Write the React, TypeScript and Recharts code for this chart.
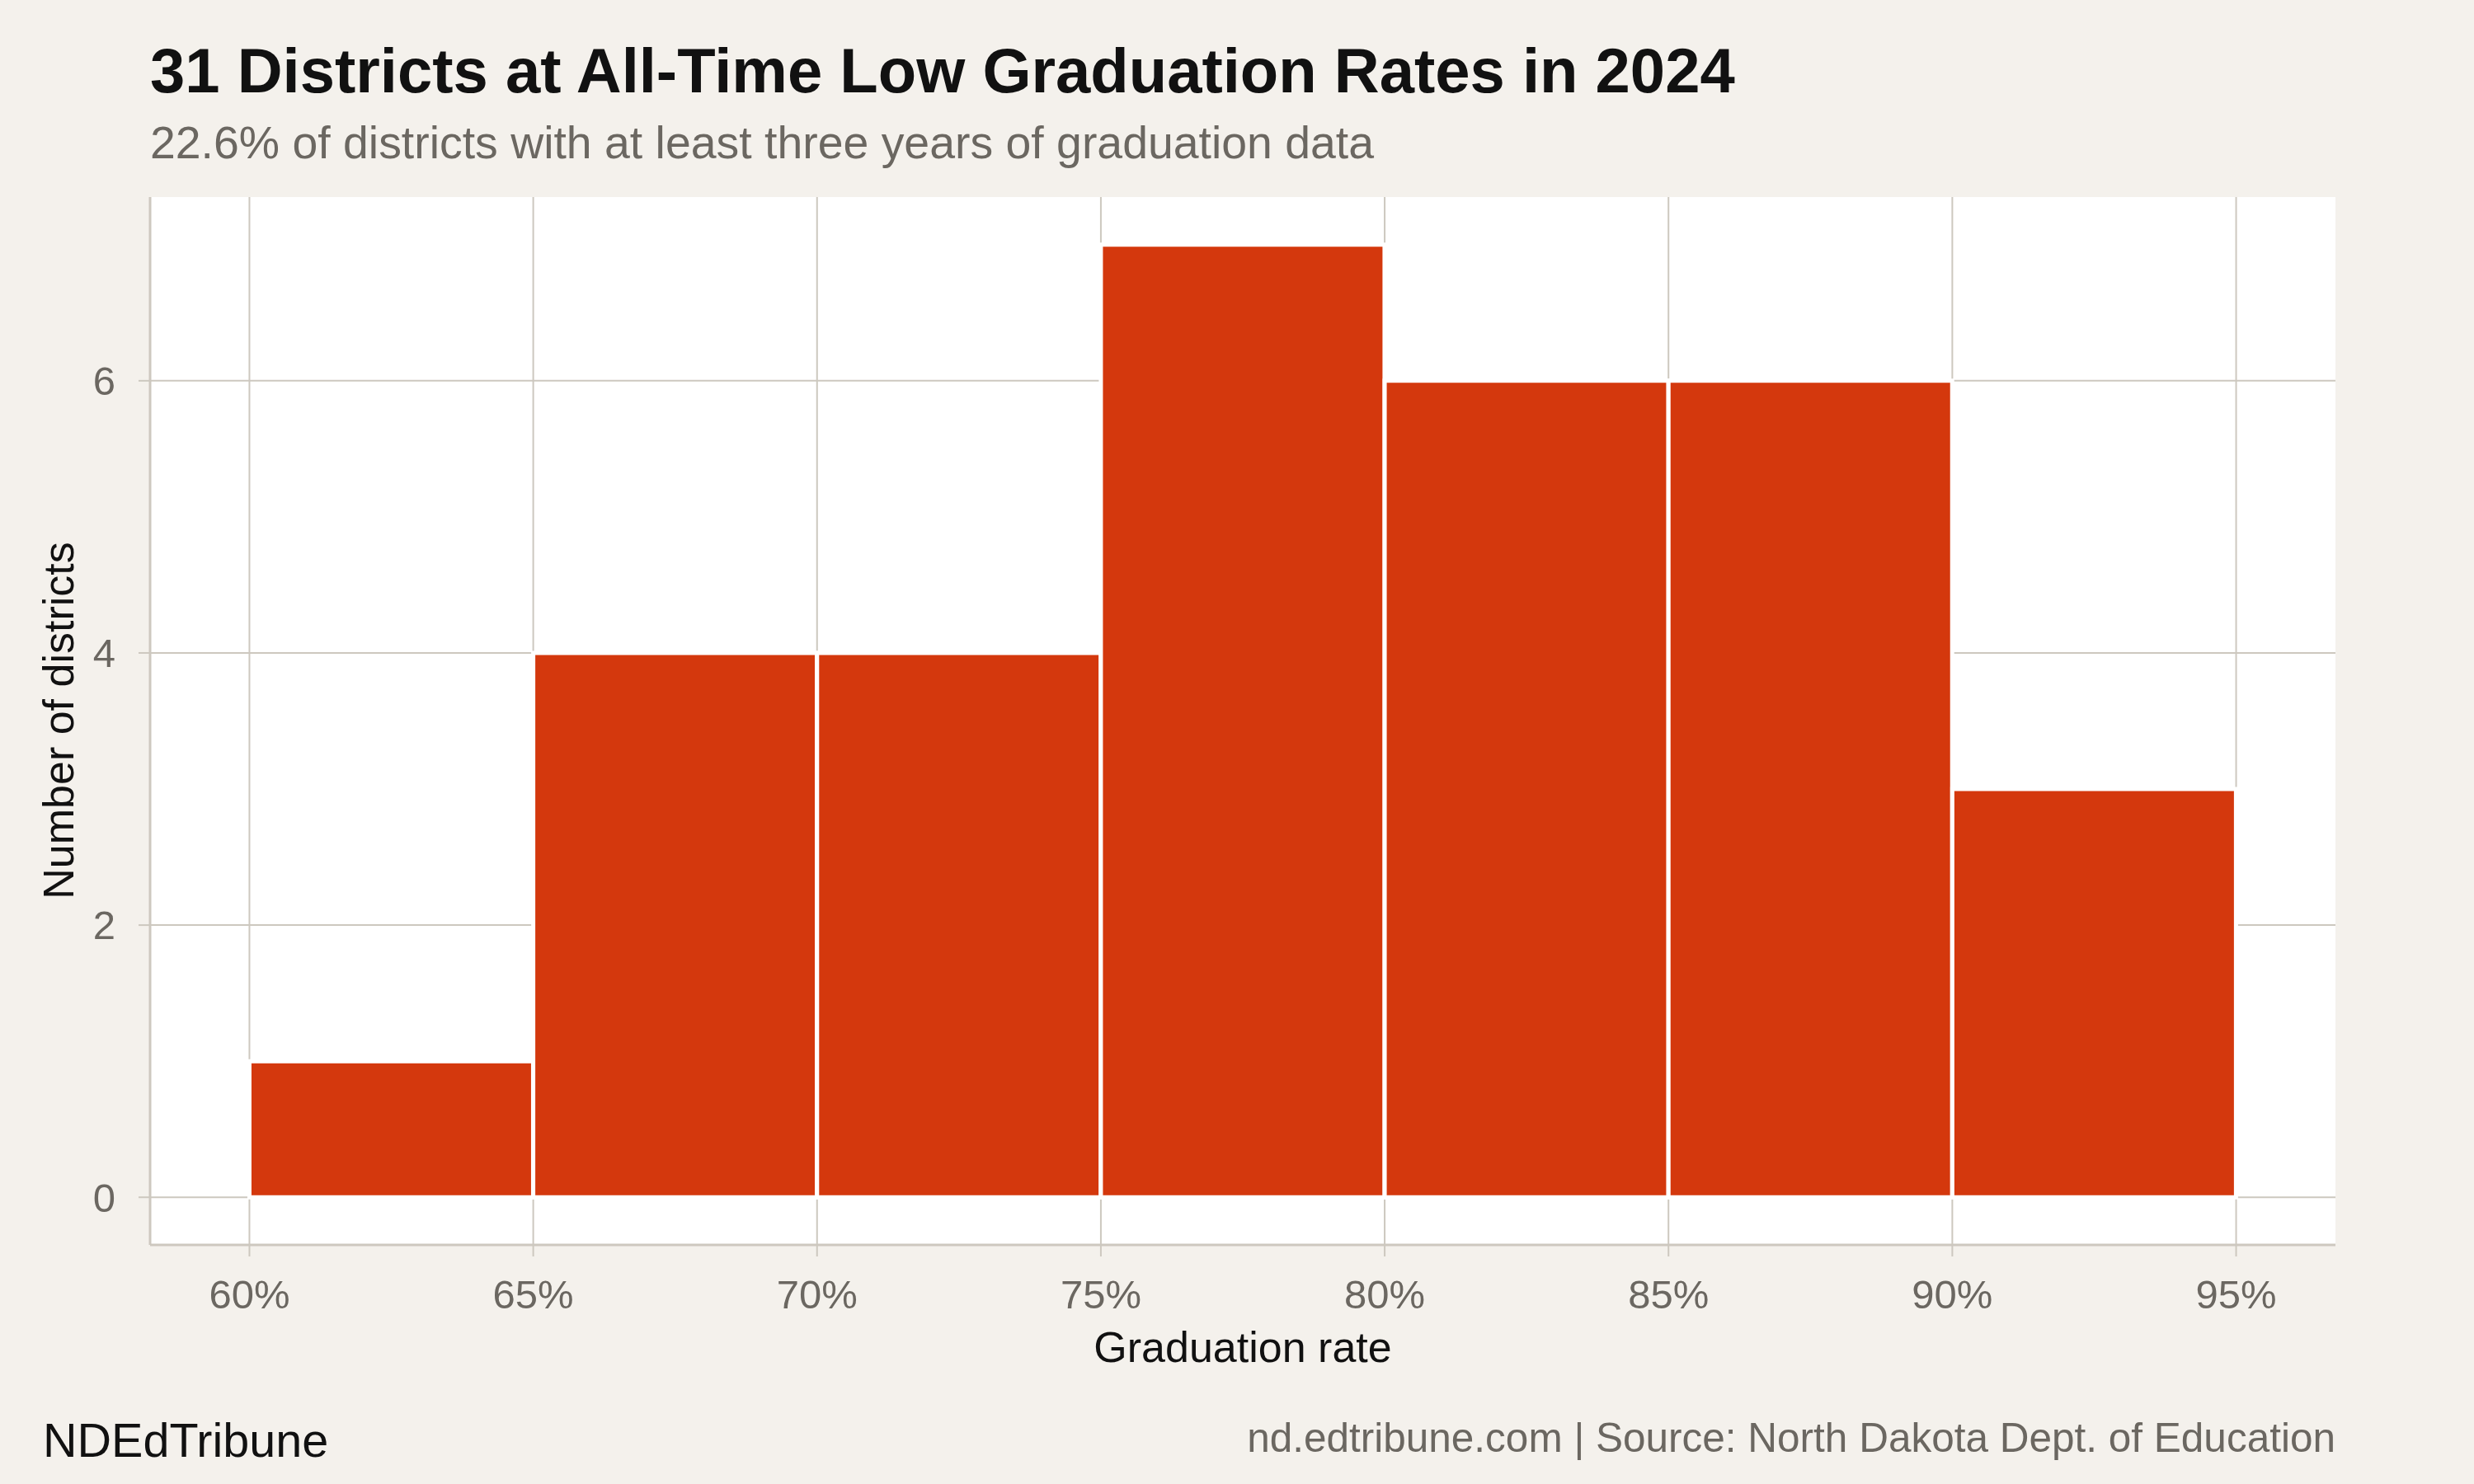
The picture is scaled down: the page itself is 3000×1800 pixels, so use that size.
import React from 'react';
import {
  BarChart,
  Bar,
  XAxis,
  YAxis,
  CartesianGrid,
} from 'recharts';

// histogram bins (graduation rate %) and district counts
const binStarts = [60, 65, 70, 75, 80, 85, 90];
const binEnds = [65, 70, 75, 80, 85, 90, 95];
const districtCounts = [1, 4, 4, 7, 6, 6, 3];

const xTicks = [60, 65, 70, 75, 80, 85, 90, 95];
const yTicks = [0, 2, 4, 6];

const data = binStarts.map((start, i) => ({
  mid: (start + binEnds[i]) / 2,
  count: districtCounts[i],
}));

const BG = '#F4F1EC';
const GRID = '#CDC8BF';
const BAR = '#D4380D';
const GREY_TEXT = '#6B6761';
const FONT = '"Liberation Sans", Arial, Helvetica, sans-serif';

export default function App() {
  return (
    <div
      style={{
        position: 'absolute',
        left: 0,
        top: 0,
        width: 3000,
        height: 1800,
        background: BG,
        fontFamily: FONT,
      }}
    >
      <BarChart
        width={3000}
        height={1800}
        data={data}
        margin={{ top: 239, right: 168, bottom: 0, left: 0 }}
        barCategoryGap={0}
        barGap={0}
      >
        <CartesianGrid fill="#FFFFFF" stroke={GRID} strokeWidth={2} syncWithTicks />
        <XAxis
          type="number"
          dataKey="mid"
          domain={[58.25, 96.75]}
          ticks={xTicks}
          interval={0}
          height={290}
          tickFormatter={(v: number) => `${v}%`}
          tick={{ fontSize: 49, fill: GREY_TEXT, fontFamily: FONT }}
          tickSize={14}
          tickMargin={28}
          axisLine={{ stroke: GRID, strokeWidth: 3 }}
          tickLine={{ stroke: GRID, strokeWidth: 2 }}
        />
        <YAxis
          type="number"
          domain={[-0.35, 7.35]}
          ticks={yTicks}
          interval={0}
          allowDataOverflow
          width={182}
          tick={{ fontSize: 49, fill: GREY_TEXT, fontFamily: FONT }}
          tickSize={14}
          tickMargin={28}
          axisLine={{ stroke: GRID, strokeWidth: 3 }}
          tickLine={{ stroke: GRID, strokeWidth: 2 }}
        />
        <Bar
          dataKey="count"
          fill={BAR}
          stroke="#FFFFFF"
          strokeWidth={5}
          isAnimationActive={false}
        />
      </BarChart>

      {/* titles, axis titles and caption */}
      <svg
        width={3000}
        height={1800}
        style={{ position: 'absolute', left: 0, top: 0, pointerEvents: 'none' }}
      >
        <text x={182} y={112} fontSize={76} fontWeight="bold" fill="#111" fontFamily={FONT}>
          31 Districts at All-Time Low Graduation Rates in 2024
        </text>
        <text x={182} y={192} fontSize={55.4} fill={GREY_TEXT} fontFamily={FONT}>
          22.6% of districts with at least three years of graduation data
        </text>
        <text x={1507} y={1652} fontSize={52} fill="#111" textAnchor="middle" fontFamily={FONT}>
          Graduation rate
        </text>
        <text
          transform="translate(89,874) rotate(-90)"
          fontSize={52}
          fill="#111"
          textAnchor="middle"
          fontFamily={FONT}
        >
          Number of districts
        </text>
        <text x={52} y={1767} fontSize={57.5} fill="#111" fontFamily={FONT}>
          NDEdTribune
        </text>
        <text x={2832} y={1761} fontSize={49.5} fill={GREY_TEXT} textAnchor="end" fontFamily={FONT}>
          nd.edtribune.com | Source: North Dakota Dept. of Education
        </text>
      </svg>
    </div>
  );
}
